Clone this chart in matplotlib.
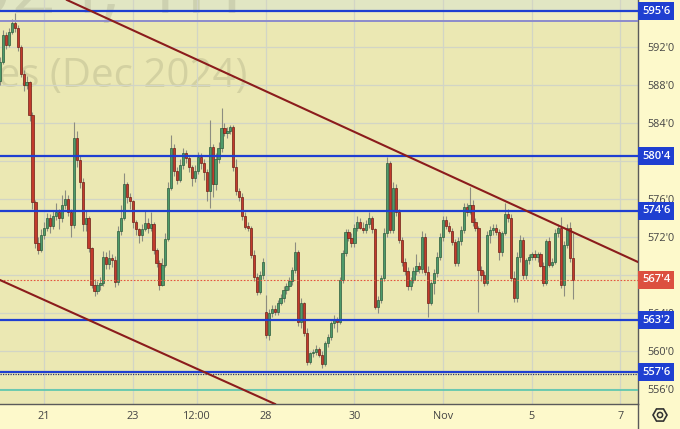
import matplotlib
matplotlib.use('Agg')
import matplotlib.pyplot as plt
import numpy as np
from matplotlib.transforms import blended_transform_factory, IdentityTransform
from matplotlib.patches import RegularPolygon, Circle
from matplotlib.lines import Line2D

# ---------------- data ----------------
opens = [
    588.4,590.4,593.3,592.2,593.6,594.5,594.0,592.0,589.2,588.0,588.3,584.8,575.7,571.4,570.6,
    572.2,573.0,574.0,573.2,574.2,574.6,574.0,575.4,576.0,574.6,573.3,582.4,580.1,577.8,573.4,
    574.0,570.8,567.0,566.3,566.9,567.2,569.9,569.2,569.8,569.6,567.3,572.6,574.0,577.6,576.2,
    575.8,573.6,572.8,572.2,572.8,573.5,573.0,573.4,570.6,569.3,567.0,569.1,571.8,577.2,581.4,
    579.0,578.0,579.6,580.8,580.3,579.4,578.2,579.0,580.4,579.8,578.8,576.8,581.5,577.6,580.2,
    581.4,583.5,583.0,583.2,583.6,579.4,576.8,576.2,574.2,573.1,573.0,570.1,567.8,566.2,568.0,
    564.1,561.7,564.0,564.4,564.1,565.1,565.6,566.4,566.8,567.4,568.5,570.4,563.0,565.0,561.9,
    558.8,559.8,559.9,560.2,559.6,558.6,560.8,561.5,562.9,563.4,563.1,567.5,570.3,572.5,571.9,
    571.4,573.0,573.6,573.0,572.7,573.4,574.0,572.8,564.6,565.4,567.7,572.4,579.8,572.7,577.2,
    574.6,571.7,569.4,568.4,566.8,567.5,568.4,569.0,568.6,572.0,568.3,565.0,567.2,568.2,569.9,
    572.0,573.8,573.2,572.6,571.5,569.3,571.6,572.7,575.2,574.6,575.4,573.6,572.9,568.5,568.0,
    567.2,572.2,572.7,573.0,572.5,570.4,572.4,574.4,574.0,567.7,565.6,569.9,571.7,568.0,569.6,
    569.9,570.2,569.9,570.2,569.0,567.2,571.6,569.1,569.4,572.4,573.0,567.0,571.2,573.0,569.8,
]
highs = [
    591.0,593.8,593.6,594.0,595.0,595.6,594.3,592.2,589.6,588.9,588.4,585.2,575.9,572.0,572.8,
    573.6,574.5,574.4,574.8,575.6,575.0,576.4,577.0,576.4,575.0,584.1,583.2,580.6,578.2,574.8,
    574.2,571.0,567.6,567.4,567.8,570.5,570.4,570.6,570.2,570.0,573.2,575.4,578.7,577.8,576.6,
    575.9,573.8,573.0,573.4,574.8,574.0,574.6,573.6,570.8,569.6,569.8,572.4,577.8,582.7,581.8,
    579.4,580.2,581.4,581.2,580.6,579.6,579.6,581.0,580.8,580.2,579.2,584.3,581.8,580.8,582.0,
    585.6,584.0,583.6,583.8,583.8,580.2,577.2,576.6,574.6,573.6,573.2,570.6,568.2,568.4,569.8,
    565.9,564.4,564.8,564.8,565.4,566.0,566.8,567.2,567.8,568.8,571.5,570.6,565.6,565.2,562.4,
    559.9,560.2,560.6,560.4,560.0,561.0,561.8,563.2,563.8,563.6,567.8,570.6,572.8,572.8,572.4,
    573.4,574.2,574.0,573.6,573.8,574.6,574.2,573.0,565.8,568.0,573.0,580.4,580.0,577.8,577.6,
    575.0,572.0,569.8,568.8,567.8,568.8,570.2,569.4,572.6,572.4,569.0,567.4,568.6,570.4,572.4,
    574.2,574.2,573.6,573.0,571.8,572.0,573.2,575.6,575.6,577.3,575.9,574.0,573.2,569.0,568.4,
    572.6,573.2,573.4,573.4,572.8,572.6,575.6,575.0,574.4,568.4,570.4,572.2,572.0,569.8,570.2,
    570.4,570.6,570.4,570.4,569.4,571.8,572.0,569.8,572.8,573.4,574.1,571.6,573.4,573.6,572.4,
]
lows = [
    588.0,590.2,591.8,592.0,593.4,593.6,591.6,588.8,587.4,587.6,584.2,575.0,570.8,570.2,570.4,
    571.8,572.6,572.4,572.8,573.8,572.8,573.6,575.0,574.2,572.0,573.0,579.4,577.2,572.6,572.6,
    570.4,566.6,565.8,566.0,566.4,566.8,568.6,568.6,568.8,566.7,567.0,572.2,573.8,575.6,575.0,
    573.0,572.2,571.4,571.6,572.6,572.4,572.6,570.2,568.8,566.4,566.8,568.8,571.6,577.0,578.4,
    577.6,577.8,579.2,579.8,578.8,577.4,577.8,578.6,579.2,578.0,575.8,575.1,576.2,577.0,579.8,
    581.0,582.6,582.4,582.8,579.0,576.4,575.8,573.8,572.8,572.6,569.8,567.4,565.9,566.0,567.6,
    561.4,561.2,563.6,563.8,563.8,564.8,565.2,566.0,566.4,567.0,568.2,562.6,562.4,561.6,558.5,
    558.6,559.4,559.6,559.4,558.2,558.4,560.4,561.2,562.4,562.0,562.8,567.2,570.0,571.6,571.0,
    571.0,572.6,572.8,572.4,572.4,573.0,572.4,564.4,564.0,565.0,567.4,572.0,572.4,572.4,574.2,
    571.4,569.0,568.0,566.4,566.4,567.2,568.0,568.2,568.2,568.0,563.6,564.8,566.0,567.8,569.6,
    571.6,572.8,572.4,571.2,569.0,569.0,571.2,572.4,574.2,574.4,573.2,572.6,564.1,567.4,566.8,
    567.0,571.4,572.2,572.2,569.6,570.0,572.2,573.6,567.4,565.2,565.2,569.4,567.6,567.6,569.2,
    569.6,569.6,569.4,568.8,566.8,567.0,568.8,568.8,569.2,572.0,566.6,565.8,570.8,569.4,565.5,
]
closes = [
    590.4,593.3,592.2,593.6,594.5,594.0,592.0,589.2,588.0,588.3,584.8,575.7,571.4,570.6,572.2,
    573.0,574.0,573.2,574.2,574.6,574.0,575.4,576.0,574.6,573.3,582.4,580.1,577.8,573.4,574.0,
    570.8,567.0,566.3,566.9,567.2,569.9,569.2,569.8,569.6,567.3,572.6,574.0,577.6,576.2,575.8,
    573.6,572.8,572.2,572.8,573.5,573.0,573.4,570.6,569.3,567.0,569.1,571.8,577.2,581.4,579.0,
    578.0,579.6,580.8,580.3,579.4,578.2,579.0,580.4,579.8,578.8,576.8,581.5,577.6,580.2,581.4,
    583.5,583.0,583.2,583.6,579.4,576.8,576.2,574.2,573.1,573.0,570.1,567.8,566.2,568.0,569.4,
    561.7,564.0,564.4,564.1,565.1,565.6,566.4,566.8,567.4,568.5,570.4,563.0,565.0,561.9,558.8,
    559.8,559.9,560.2,559.6,558.6,560.8,561.5,562.9,563.4,563.1,567.5,570.3,572.5,571.9,571.4,
    573.0,573.6,573.0,572.7,573.4,574.0,572.8,564.6,565.4,567.7,572.4,579.8,572.7,577.2,574.6,
    571.7,569.4,568.4,566.8,567.5,568.4,569.0,568.6,572.0,568.3,565.0,567.2,568.2,569.9,572.0,
    573.8,573.2,572.6,571.5,569.3,571.6,572.7,575.2,574.6,575.4,573.6,572.9,568.5,568.0,567.2,
    572.2,572.7,573.0,572.5,570.4,572.4,574.4,574.0,567.7,565.6,569.9,571.7,568.0,569.6,569.9,
    570.2,569.9,570.2,569.0,567.2,571.6,569.1,569.4,572.4,573.0,567.0,571.2,573.0,569.8,567.5,
]
bars_per_day = 15

day_ticks = [1, 3, 4.447, 6, 8, 10, 12, 14]
day_labels = ['21', '23', '12:00', '28', '30', 'Nov', '5', '7']

price_ticks = [556, 560, 564, 568, 572, 576, 580, 584, 588, 592]
hidden_ticks = [568, 580]          # covered by the price boxes in the reference
level_values = [595.75, 580.5, 574.75, 563.25, 557.75]
level_labels = ["595'6", "580'4", "574'6", "563'2", "557'6"]
last_price = 567.5
last_label = "567'4"
lavender_level = 594.74
teal_level = 555.9
upper_trend = [(1.512, 596.95), (14.40, 569.37)]
lower_trend = [(0.0, 567.47), (6.208, 554.42)]

# ---------------- figure ----------------
W, H = 680, 429
fig = plt.figure(figsize=(W / 100, H / 100), dpi=100)
fig.patch.set_facecolor('#fdf9cb')
ax_w, ax_h = 638, 404
ax = fig.add_axes([0, (H - ax_h) / H, ax_w / W, ax_h / H])
ax.set_facecolor('#ebe8b3')
px_per_day = 44.3
ax.set_xlim(0, ax_w / px_per_day)
ax.set_ylim(554.42, 596.95)

# background bands at top
ax.axhspan(level_values[0], 600, color='#e1e6c3', zorder=0.2, lw=0)
ax.axhspan(lavender_level, level_values[0], color='#efedc4', zorder=0.2, lw=0)

# grid and ticks
ax.set_axisbelow(True)
ax.set_xticks(day_ticks)
ax.set_xticklabels(day_labels)
ax.set_yticks(price_ticks)
ax.set_yticklabels(['' if p in hidden_ticks else f"{p}'0" for p in price_ticks])
ax.grid(True, color='#d2d5c5', lw=0.9)
ax.yaxis.tick_right()
ax.tick_params(axis='both', length=0, colors='#444444', labelsize=7.8)
ax.tick_params(axis='y', pad=7)
ax.tick_params(axis='x', pad=5)
for lab in ax.get_xticklabels() + ax.get_yticklabels():
    lab.set_fontfamily('Open Sans')
for s in ['top', 'left']:
    ax.spines[s].set_visible(False)
for s in ['right', 'bottom']:
    ax.spines[s].set_color('#5a5a5a')
    ax.spines[s].set_linewidth(1.0)

# watermark
ax.text(243 / ax_w, 1 - 13 / ax_h, 'ZSZ2024, 1H', transform=ax.transAxes,
        ha='right', va='baseline', fontsize=56, family='Open Sans',
        color='#77775a', alpha=0.18, zorder=0.5)
ax.text(247 / ax_w, 1 - 87 / ax_h, 'Soybean Futures (Dec 2024)', transform=ax.transAxes,
        ha='right', va='baseline', fontsize=29, family='Open Sans',
        color='#77775a', alpha=0.2, zorder=0.5)

# candles
o = np.array(opens); hi = np.array(highs); lo = np.array(lows); c = np.array(closes)
x = np.arange(len(c)) / bars_per_day
up = c >= o
ax.vlines(x, lo, hi, color='#8d8d80', lw=0.8, zorder=3)
body_bottom = np.minimum(o, c)
body_h = np.maximum(np.abs(c - o), 0.12)
face = np.where(up, '#4e9a6a', '#c23a2c')
edge = np.where(up, '#2d5c3d', '#6e1f16')
ax.bar(x, body_h, bottom=body_bottom, width=0.05, color=face, edgecolor=edge,
       linewidth=0.5, zorder=4)

# horizontal levels
for v in level_values:
    ax.axhline(v, color='#1f3fd1', lw=1.6, zorder=5)
ax.axhline(lavender_level, color='#8c8bcc', lw=1.4, zorder=5)
ax.axhline(level_values[-1] - 0.17, color='#2a3470', lw=0.9, ls=(0, (1, 1)), zorder=5)
ax.axhline(last_price, color='#e4553f', lw=0.8, ls=(0, (1.5, 1.5)), zorder=5)
ax.axhline(teal_level, color='#57c6ad', lw=1.2, zorder=5)

# trend lines
ax.axline(upper_trend[0], upper_trend[1], color='#8b1c1c', lw=1.5, zorder=6)
ax.axline(lower_trend[0], lower_trend[1], color='#8b1c1c', lw=1.5, zorder=6)

# price labels on the axis
trans = blended_transform_factory(ax.transAxes, ax.transData)
for v, lab in zip(level_values, level_labels):
    ax.text(1.0 + 4 / ax_w, v, lab, transform=trans, ha='left', va='center',
            color='white', fontsize=8, family='Open Sans', fontweight='semibold',
            bbox=dict(boxstyle='square,pad=0.32', fc='#1f3fd1', ec='none'),
            zorder=10, clip_on=False)
ax.text(1.0 + 4 / ax_w, last_price, last_label, transform=trans, ha='left', va='center',
        color='white', fontsize=8, family='Open Sans', fontweight='semibold',
        bbox=dict(boxstyle='square,pad=0.32', fc='#dc503f', ec='none'),
        zorder=10, clip_on=False)

# separator line continuing into corner
fig.add_artist(Line2D([ax_w / W, ax_w / W], [0, (H - ax_h) / H], color='#5a5a5a', lw=1.0,
                      transform=fig.transFigure))

# settings icon
fig.add_artist(RegularPolygon((660, 14), 6, radius=7, orientation=np.pi / 6, fill=False,
                              ec='#333333', lw=1.2, transform=IdentityTransform()))
fig.add_artist(Circle((660, 14), 2.6, fill=False, ec='#333333', lw=1.1,
                      transform=IdentityTransform()))

fig.savefig('out.png', dpi=100, facecolor=fig.get_facecolor())
